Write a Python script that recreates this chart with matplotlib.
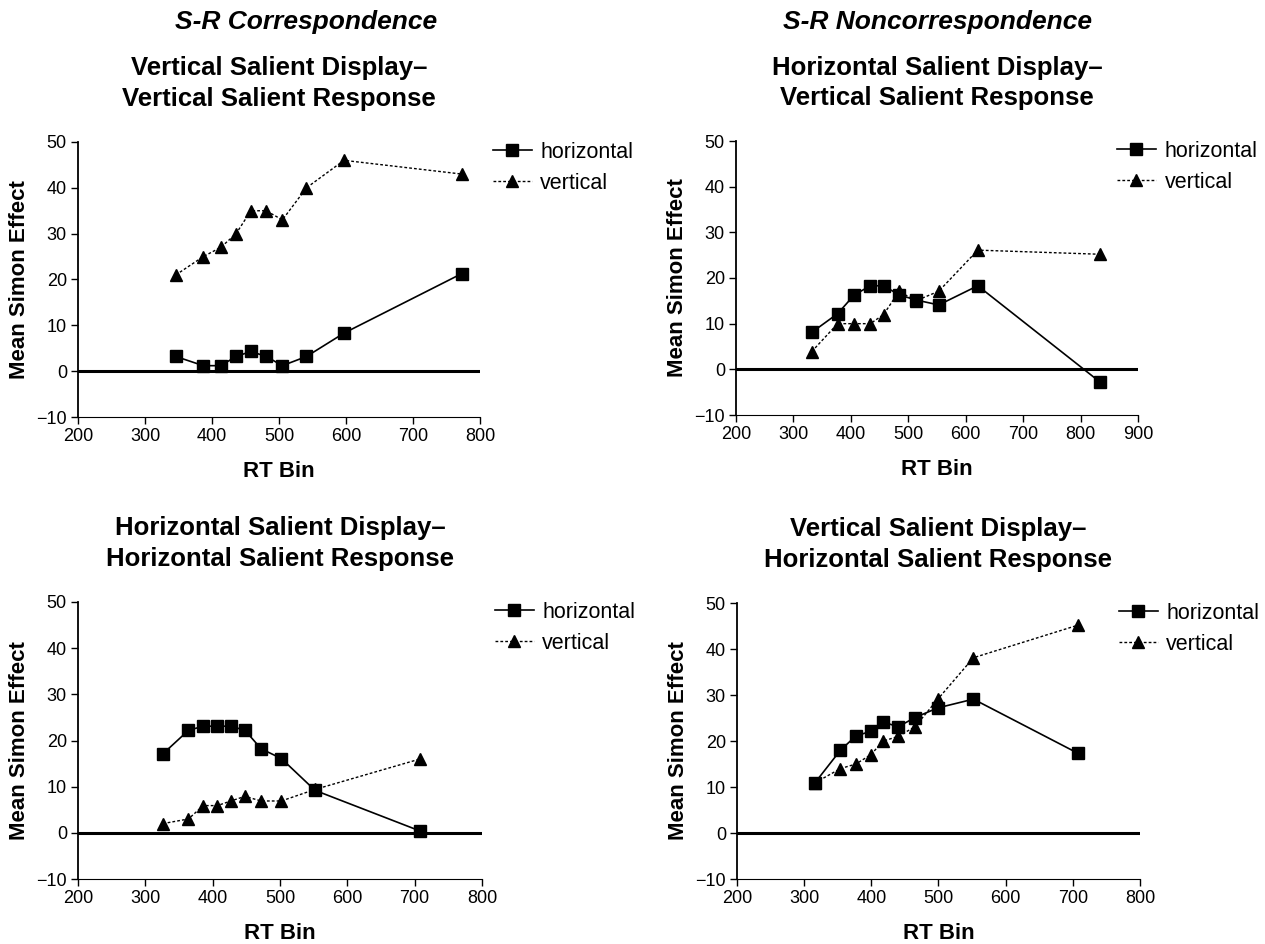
import matplotlib
matplotlib.use('Agg')
import matplotlib.pyplot as plt

plt.rcParams['font.family'] = ['Liberation Sans', 'DejaVu Sans']

# top-left: vertical display - vertical response
rt_vv = [346, 387, 413, 436, 458, 481, 505, 541, 597, 773]
hor_vv = [3.2, 1.2, 1.2, 3.2, 4.3, 3.2, 1.2, 3.2, 8.3, 21.3]
ver_vv = [21, 25, 27, 30, 35, 35, 33, 40, 46, 43]

# top-right: horizontal display - vertical response
rt_hv = [332, 377, 406, 434, 457, 484, 513, 553, 621, 834]
hor_hv = [8.1, 12.2, 16.3, 18.3, 18.3, 16.3, 15.2, 14.1, 18.3, -2.8]
ver_hv = [3.9, 10, 10, 10, 12, 17.1, 15, 17.1, 26.1, 25.2]

# bottom-left: horizontal display - horizontal response
rt_hh = [326, 364, 386, 407, 427, 448, 472, 502, 552, 708]
hor_hh = [17.1, 22.2, 23.1, 23.1, 23.1, 22.2, 18.2, 16.1, 9.2, 0.4]
ver_hh = [2.0, 3.0, 5.9, 5.9, 6.9, 7.9, 6.9, 6.9, 9.4, 16.0]

# bottom-right: vertical display - horizontal response
rt_vh = [316, 354, 377, 399, 418, 440, 465, 499, 552, 708]
hor_vh = [10.9, 18.0, 21.1, 22.1, 24.1, 23.1, 25.1, 27.2, 29.1, 17.3]
ver_vh = [10.9, 14.0, 15.0, 17.0, 20.0, 21.0, 23.1, 29.1, 38.1, 45.2]

W, H = 1265, 944
fig = plt.figure(figsize=(W / 100, H / 100), dpi=100)


def make_ax(l, r, t, b):
    return fig.add_axes([l / W, 1 - b / H, (r - l) / W, (b - t) / H])


panels = [
    (make_ax(78, 480, 142, 417), rt_vv, hor_vv, ver_vv, 800, 1.032,
     'Vertical Salient Display\u2013\nVertical Salient Response'),
    (make_ax(736, 1138, 141, 415), rt_hv, hor_hv, ver_hv, 900, 0.948,
     'Horizontal Salient Display\u2013\nVertical Salient Response'),
    (make_ax(78, 482, 602, 879), rt_hh, hor_hh, ver_hh, 800, 1.032,
     'Horizontal Salient Display\u2013\nHorizontal Salient Response'),
    (make_ax(737, 1140, 603, 879), rt_vh, hor_vh, ver_vh, 800, 0.948,
     'Vertical Salient Display\u2013\nHorizontal Salient Response'),
]

for ax, rt, hor, ver, xmax, legx, title in panels:
    ax.plot(rt, hor, color='black', lw=1.2, marker='s', ms=8.5,
            label='horizontal', zorder=3)
    ax.plot(rt, ver, color='black', lw=1.0, ls=(0, (2, 1.5)), marker='^',
            ms=8.5, label='vertical', zorder=3)
    ax.axhline(0, color='black', lw=2.2, zorder=2)
    ax.set_xlim(200, xmax)
    ax.set_ylim(-10, 50)
    ax.set_xticks(range(200, xmax + 1, 100))
    ax.set_yticks(range(-10, 51, 10))
    ax.set_yticklabels(['\u221210'] + [str(v) for v in range(0, 51, 10)])
    for s in ['top', 'right']:
        ax.spines[s].set_visible(False)
    ax.spines['left'].set_linewidth(1.3)
    ax.spines['bottom'].set_linewidth(0.8)
    ax.tick_params(direction='out', length=5, width=1, labelsize=13, pad=3)
    ax.set_xlabel('RT Bin', fontsize=16, fontweight='bold')
    ax.set_ylabel('Mean Simon Effect', fontsize=16, fontweight='bold')
    ax.xaxis.set_label_coords(0.5, -0.16)
    ax.yaxis.set_label_coords(-0.12, 0.5)
    ax.legend(loc='upper left', bbox_to_anchor=(legx, 1.0), frameon=False,
              fontsize=15.5, handlelength=1.8, handletextpad=0.4,
              labelspacing=0.45, borderpad=0, borderaxespad=0)
    ax.text(0.5, 1.212, title, transform=ax.transAxes, ha='center',
            va='center', fontsize=18.5, fontweight='bold', linespacing=1.35)

fig.text(306 / W, 1 - 22 / H, 'S-R Correspondence', fontsize=19,
         fontweight='bold', style='italic', ha='center', va='center')
fig.text(937 / W, 1 - 22 / H, 'S-R Noncorrespondence', fontsize=19,
         fontweight='bold', style='italic', ha='center', va='center')

fig.savefig('out.png', dpi=100)
